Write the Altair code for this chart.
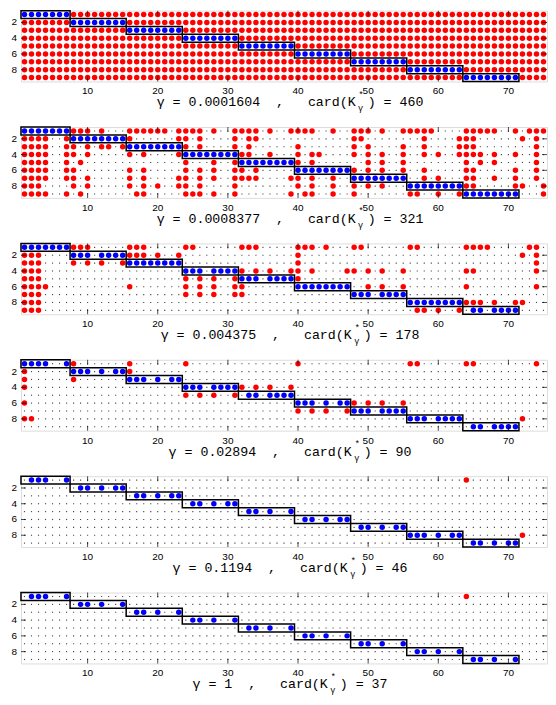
import altair as alt
import pandas as pd

# ---------------- data ----------------
GAMMAS = ["0.0001604", "0.0008377", "0.004375", "0.02894", "0.1194", "1"]
CARDS = [460, 321, 178, 90, 46, 37]
BLOCK_START = [1, 8, 16, 24, 32, 40, 48, 56, 64]
BLOCK_END = [7, 15, 23, 31, 39, 47, 55, 63, 71]
COLS = list(range(1, 76))
ROWS = list(range(1, 10))
X_TICKS = [10, 20, 30, 40, 50, 60, 70]
Y_TICKS = [2, 4, 6, 8]

FULL_BLOCKS = [list(range(s, e + 1)) for s, e in zip(BLOCK_START, BLOCK_END)]

BLUE_P1 = FULL_BLOCKS
RED_P1 = [[c for c in COLS if c not in FULL_BLOCKS[r]] for r in range(9)]

BLUE_P2 = FULL_BLOCKS
RED_P2 = [
    [8, 9, 10, 12, 16, 17, 18, 19, 20, 21, 23, 24, 25, 26, 28, 31, 32, 33, 34, 36, 39, 40, 41, 42, 45, 48, 49, 50, 52, 55, 56, 57, 58, 59, 64, 65, 66, 67, 68, 71, 73, 74, 75],
    [1, 2, 3, 4, 7, 16, 23, 24, 26, 31, 33, 34, 48, 49, 58, 63, 64, 65, 72, 74],
    [1, 2, 3, 4, 7, 8, 10, 12, 13, 15, 24, 26, 31, 33, 40, 48, 50, 55, 58, 63, 64, 65, 74],
    [1, 2, 3, 4, 7, 8, 10, 16, 18, 23, 32, 33, 36, 40, 42, 43, 48, 50, 52, 55, 58, 60, 63, 64, 65, 66, 68, 71, 74],
    [1, 2, 3, 4, 7, 9, 24, 28, 31, 40, 42, 50, 52, 55, 64, 66, 68, 74],
    [1, 2, 3, 4, 7, 8, 16, 18, 24, 26, 28, 31, 32, 34, 48, 50, 52, 55, 58, 64, 65, 71, 74],
    [1, 2, 3, 4, 7, 8, 10, 16, 18, 23, 24, 26, 28, 31, 32, 33, 34, 39, 40, 42, 45, 58, 60, 64, 65, 68, 71, 74],
    [1, 2, 3, 8, 10, 16, 18, 20, 23, 24, 26, 31, 40, 42, 45, 48, 50, 52, 64, 65, 71, 72, 75],
    [1, 2, 3, 4, 7, 9, 17, 18, 24, 25, 26, 28, 31, 39, 41, 42, 45, 48, 56, 57, 60, 63, 75],
]

BLUE_P3 = [
    [1, 2, 3, 4, 5, 6, 7],
    [8, 9, 10, 12, 13, 14, 15],
    [16, 17, 18, 19, 20, 21, 22, 23],
    [24, 25, 26, 28, 29, 30, 31],
    [32, 33, 34, 36, 37, 38, 39],
    [40, 41, 42, 43, 44, 45, 46, 47],
    [48, 49, 50, 52, 53, 54, 55],
    [56, 57, 58, 59, 60, 61, 62, 63],
    [65, 66, 68, 69, 70, 71],
]
RED_P3 = [
    [8, 9, 10, 16, 17, 18, 24, 25, 32, 33, 34, 40, 41, 42, 44, 48, 49, 56, 57, 64, 65, 66, 67, 73, 74],
    [1, 2, 3, 16, 17, 18, 20, 23, 40, 72, 74],
    [1, 2, 3, 8, 10, 12, 15, 40, 74],
    [1, 2, 3, 32, 34, 36, 39, 40, 42, 47, 48, 50, 52, 55, 64, 65, 74],
    [1, 2, 3, 24, 26, 28, 31, 40],
    [1, 2, 3, 4, 16, 24, 26, 28, 31, 32, 50, 52, 55, 64, 74],
    [1, 2, 3, 24, 26, 28, 31, 32],
    [1, 2, 3, 64, 65, 66, 68, 71, 72],
    [1, 2, 3, 57, 58, 60, 63],
]

BLUE_P4 = [
    [1, 2, 3, 4, 7],
    [8, 9, 10, 12, 14, 15],
    [16, 17, 18, 20, 22, 23],
    [24, 25, 26, 28, 29, 30, 31],
    [33, 34, 36, 37, 38, 39],
    [40, 41, 42, 44, 46, 47],
    [48, 49, 50, 52, 53, 54, 55],
    [56, 57, 58, 60, 61, 62, 63],
    [65, 66, 68, 69, 70, 71],
]
RED_P4 = [
    [8, 16, 24, 40, 56, 57, 64, 65, 74],
    [1, 16],
    [1, 8],
    [1, 32, 34, 36, 39],
    [24, 26, 28, 31],
    [1, 48, 50, 52, 55],
    [40, 42, 44, 47],
    [1, 2, 72],
    [],
]

BLUE_P5 = [
    [2, 3, 4, 7],
    [9, 10, 12, 14, 15],
    [17, 18, 20, 22, 23],
    [25, 26, 28, 30, 31],
    [33, 34, 36, 39],
    [41, 42, 44, 46, 47],
    [49, 50, 52, 54, 55],
    [56, 57, 58, 60, 62, 63],
    [65, 66, 68, 70, 71],
]
RED_P5 = [[64], [], [], [], [], [], [], [72], []]

BLUE_P6 = [
    [2, 3, 4, 7],
    [9, 10, 12, 15],
    [17, 18, 20, 23],
    [25, 26, 28, 31],
    [33, 34, 36, 39],
    [41, 42, 44, 47],
    [49, 50, 52, 55],
    [57, 58, 60, 63],
    [65, 66, 68, 71],
]
RED_P6 = [[64], [], [], [], [], [], [], [], []]

PANELS = [
    (BLUE_P1, RED_P1), (BLUE_P2, RED_P2), (BLUE_P3, RED_P3),
    (BLUE_P4, RED_P4), (BLUE_P5, RED_P5), (BLUE_P6, RED_P6),
]

# ---------------- layout / style ----------------
W, H = 527, 71
FS = 13.3            # title font size (monospace)
ADV = 0.6 * FS       # monospace advance
SLOT = 12            # width of the K super/sub-script slot
TICK = 5             # inward tick length (px)
TITLE_DX = 6
SCRIPT_FS = 8.5
MONO = "Liberation Mono"
SANS = "Liberation Sans"
NB = "\u00a0"

xs = alt.Scale(domain=[0.5, 75.5], nice=False, zero=False)
ys = alt.Scale(domain=[0.5, 9.5], reverse=True, nice=False, zero=False)
X_ENC = alt.X("x:Q", scale=xs, axis=None)
Y_ENC = alt.Y("y:Q", scale=ys, axis=None)

grid_df = pd.DataFrame([(c, r) for r in ROWS for c in COLS], columns=["x", "y"])
box_df = pd.DataFrame({
    "x": [s - 0.5 for s in BLOCK_START],
    "x2": [e + 0.5 for e in BLOCK_END],
    "y": [r - 0.5 for r in ROWS],
    "y2": [r + 0.5 for r in ROWS],
})
xt_top_df = pd.DataFrame({"x": X_TICKS, "y": [0.5] * len(X_TICKS)})
xt_bot_df = pd.DataFrame({"x": X_TICKS, "y": [9.5] * len(X_TICKS), "lab": [str(t) for t in X_TICKS]})
yt_left_df = pd.DataFrame({"x": [0.5] * len(Y_TICKS), "y": Y_TICKS, "lab": [str(t) for t in Y_TICKS]})
yt_right_df = pd.DataFrame({"x": [75.5] * len(Y_TICKS), "y": Y_TICKS})


def tick_layer(df, orient, xoff, yoff):
    return alt.Chart(df).mark_tick(orient=orient, size=TICK, thickness=1, color="black",
                                   xOffset=xoff, yOffset=yoff).encode(x=X_ENC, y=Y_ENC)


def panel(i):
    blue, red = PANELS[i]
    recs = []
    for r, cols in enumerate(red, start=1):
        recs += [(c, r, "red") for c in cols]
    for r, cols in enumerate(blue, start=1):
        recs += [(c, r, "blue") for c in cols]
    pts = pd.DataFrame(recs, columns=["x", "y", "k"])

    base = alt.Chart(grid_df).mark_square(size=1.3, color="#333333", opacity=0.9).encode(x=X_ENC, y=Y_ENC)
    dots = alt.Chart(pts).mark_circle(size=30, opacity=1).encode(
        x=X_ENC, y=Y_ENC,
        color=alt.Color("k:N", scale=alt.Scale(domain=["blue", "red"], range=["#0000FF", "#FF0000"]), legend=None),
    )
    boxes = alt.Chart(box_df).mark_rect(fillOpacity=0, stroke="black", strokeWidth=1.5).encode(
        x=X_ENC, x2="x2:Q", y=Y_ENC, y2="y2:Q")
    ticks = [
        tick_layer(xt_top_df, "vertical", 0, TICK / 2),
        tick_layer(xt_bot_df, "vertical", 0, -TICK / 2),
        tick_layer(yt_left_df, "horizontal", TICK / 2, 0),
        tick_layer(yt_right_df, "horizontal", -TICK / 2, 0),
    ]
    xlab = alt.Chart(xt_bot_df).mark_text(font=SANS, fontSize=10, color="black", align="center",
                                          baseline="top", dy=5).encode(x=X_ENC, y=Y_ENC, text="lab:N")
    ylab = alt.Chart(yt_left_df).mark_text(font=SANS, fontSize=10, color="black", align="right",
                                           baseline="middle", dx=-4).encode(x=X_ENC, y=Y_ENC, text="lab:N")

    left = f"\u03b3 = {GAMMAS[i]}  ,   card(K"
    right = f") = {CARDS[i]}"
    total = ADV * (len(left) + len(right)) + SLOT
    x0 = W / 2 - total / 2 + TITLE_DX
    xk = x0 + ADV * len(left)
    ty = H + 25
    t_left = alt.Chart(pd.DataFrame({"t": [left.replace(" ", NB)]})).mark_text(
        font=MONO, fontSize=FS, align="right", baseline="alphabetic", color="black").encode(
        text="t:N", x=alt.value(xk), y=alt.value(ty))
    t_sup = alt.Chart(pd.DataFrame({"t": ["*"]})).mark_text(
        font=MONO, fontSize=SCRIPT_FS, align="center", baseline="alphabetic", color="black").encode(
        text="t:N", x=alt.value(xk + 5.5), y=alt.value(ty - 8.5))
    t_sub = alt.Chart(pd.DataFrame({"t": ["\u03b3"]})).mark_text(
        font=MONO, fontSize=SCRIPT_FS, align="center", baseline="alphabetic", color="black").encode(
        text="t:N", x=alt.value(xk + 5), y=alt.value(ty + 5))
    t_right = alt.Chart(pd.DataFrame({"t": [right.replace(" ", NB)]})).mark_text(
        font=MONO, fontSize=FS, align="left", baseline="alphabetic", color="black").encode(
        text="t:N", x=alt.value(xk + SLOT), y=alt.value(ty))

    return alt.layer(base, dots, boxes, *ticks, xlab, ylab, t_left, t_sup, t_sub, t_right).properties(
        width=W, height=H)


chart = alt.vconcat(*[panel(i) for i in range(6)], spacing=45.6, bounds="flush").properties(
    padding={"left": 2, "top": 0, "right": 0, "bottom": 0}
).configure_view(stroke="black", strokeWidth=1.5).configure(background="white")

chart.save("out.html", embed_options={"renderer": "svg", "actions": False})
